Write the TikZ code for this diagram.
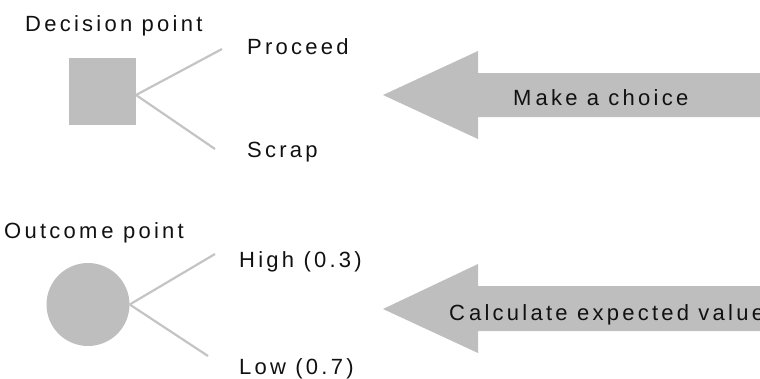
\documentclass[tikz,border=0pt]{standalone}
\usepackage{fontspec}
\setmainfont{Liberation Sans}[LetterSpace=14.8]
\begin{document}
\begin{tikzpicture}[x=1pt,y=-1pt,
  shapefill/.style={fill=greyfill, draw=none},
  branch/.style={draw=greyline, line width=2.2pt},
  lbl/.style={anchor=base west, inner sep=0pt, text=ink, font=\fontsize{22}{26}\selectfont},
]
\definecolor{greyfill}{HTML}{BEBEBE}
\definecolor{greyline}{HTML}{C4C4C4}
\definecolor{ink}{HTML}{111111}
\useasboundingbox (0,0) rectangle (760,378);
\clip (0,0) rectangle (760,378);
% decision
\node[lbl] (dlab) at (25,31) {Decision point};
\node[shapefill, minimum width=67pt, minimum height=67pt, inner sep=0pt] (sq) at (102.5,91.5) {};
\coordinate (f1) at (136,95);
\coordinate (p1) at (222,49);
\coordinate (s1) at (215,149);
\draw[branch] (f1) -- (p1);
\draw[branch] (f1) -- (s1);
\node[lbl] (proc) at (247,54) {Proceed};
\node[lbl] (scr) at (247,157) {Scrap};
% outcome
\node[lbl] (olab) at (4,238) {Outcom\hspace{4pt}e point};
\node[shapefill, circle, minimum size=83pt, inner sep=0pt] (circ) at (88,304.5) {};
\coordinate (h1) at (215,254);
\coordinate (l1) at (208,356);
\draw[branch] (circ.east) -- (h1);
\draw[branch] (circ.east) -- (l1);
\node[lbl] (high) at (239,267) {High (0.3)};
\node[lbl] (low) at (239,374) {Low (0.7)};
% arrows
\fill[greyfill] (383,95) -- (478,51) -- (478,73) -- (770,73) -- (770,117) -- (478,117) -- (478,139) -- cycle;
\node[lbl] (mk) at (513,105) {M\hspace{4pt}ake a choice};
\fill[greyfill] (383,309) -- (478,264) -- (478,286) -- (770,286) -- (770,331) -- (478,331) -- (478,353) -- cycle;
\node[lbl] (calc) at (449,320) {C\hspace{4pt}alculate expected value};
\end{tikzpicture}
\end{document}
